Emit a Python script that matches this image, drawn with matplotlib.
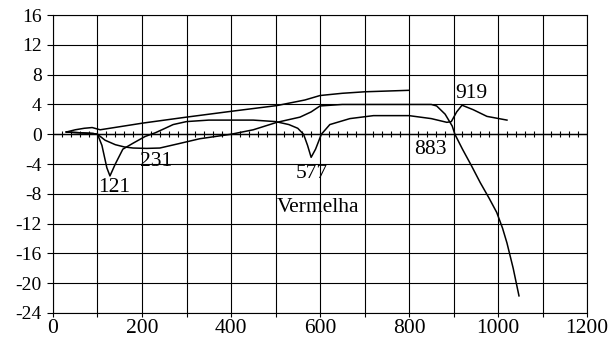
import numpy as np
import matplotlib.pyplot as plt

# curve ending at 800 (top straight-ish line)
xa = [30, 50, 70, 88, 100, 106, 202, 300, 403, 503, 566, 600, 650, 700, 800]
ya = [0.3, 0.6, 0.8, 0.9, 0.7, 0.6, 1.5, 2.3, 3.1, 3.85, 4.6, 5.2, 5.5, 5.7, 5.9]

# curve with dips at 121 and 577 and peak at 919
xp = [30, 60, 90, 100, 110, 121, 128, 140, 157, 180, 207, 230, 252, 270, 300, 350,
      450, 500, 530, 550, 563, 572, 580, 590, 603, 622, 667, 720, 800, 850, 885,
      895, 907, 919, 944, 975, 1020]
yp = [0.3, 0.2, 0.1, 0.0, -1.5, -4.5, -5.6, -4.0, -2.0, -1.2, -0.3, 0.2, 0.8, 1.3,
      1.7, 1.9, 1.9, 1.7, 1.3, 0.8, 0.0, -1.5, -3.1, -2.0, 0.0, 1.3, 2.1, 2.5, 2.5,
      2.1, 1.6, 1.7, 3.0, 3.9, 3.3, 2.4, 1.9]

# curve with broad minimum near 231, plateau, steep drop after 883
xq = [30, 60, 90, 100, 117, 140, 160, 180, 210, 240, 280, 330, 400, 450, 503, 555,
      580, 600, 650, 750, 850, 862, 881, 897, 903, 920, 940, 960, 980, 997, 1010,
      1020, 1034, 1047]
yq = [0.3, 0.2, 0.1, 0.0, -0.8, -1.4, -1.7, -1.85, -1.9, -1.85, -1.3, -0.6, 0.0,
      0.6, 1.6, 2.3, 3.0, 3.8, 4.0, 4.0, 4.0, 3.8, 2.7, 1.1, 0.0, -2.0, -4.2, -6.5,
      -8.6, -10.5, -12.6, -14.6, -18.0, -21.7]

labels = ["121", "231", "577", "883", "919", "Vermelha"]
label_x = [137, 231, 582, 849, 939, 596]
label_y = [-7.1, -3.6, -5.3, -2.0, 5.5, -9.8]

xticks = np.arange(0, 1201, 200)
yticks = np.arange(-24, 17, 4)

plt.rcParams['font.family'] = ['Liberation Serif', 'DejaVu Serif']
plt.rcParams['axes.unicode_minus'] = False

fig = plt.figure(figsize=(6.09, 3.43), dpi=100)
ax = fig.add_axes([0.087, 0.0875, 0.877, 0.8685])

ax.set_xlim(0, 1200)
ax.set_ylim(-24, 16)
ax.set_xticks(xticks)
ax.set_xticks(np.arange(0, 1201, 100), minor=True)
ax.set_yticks(yticks)
ax.grid(True, which='both', axis='x', color='black', lw=0.8)
ax.grid(True, which='major', axis='y', color='black', lw=0.8)
ax.tick_params(axis='x', which='both', direction='out', length=3, width=0.8,
               labelsize=15.5, pad=1)
ax.tick_params(axis='y', direction='out', length=4, width=0.8, labelsize=14, pad=4)
for s in ax.spines.values():
    s.set_linewidth(0.8)

# axis line at y=0 with crossing tick marks
ax.axhline(0, color='black', lw=1.0)
ax.vlines(np.arange(0, 1201, 20), -0.4, 0.4, color='black', lw=0.8)

for xs, ys in [(xa, ya), (xp, yp), (xq, yq)]:
    ax.plot(xs, ys, color='black', lw=1.1)

for t, x, y in zip(labels, label_x, label_y):
    ax.text(x, y, t, ha='center', va='center', fontsize=15.5)

fig.savefig('out.png', dpi=100)
